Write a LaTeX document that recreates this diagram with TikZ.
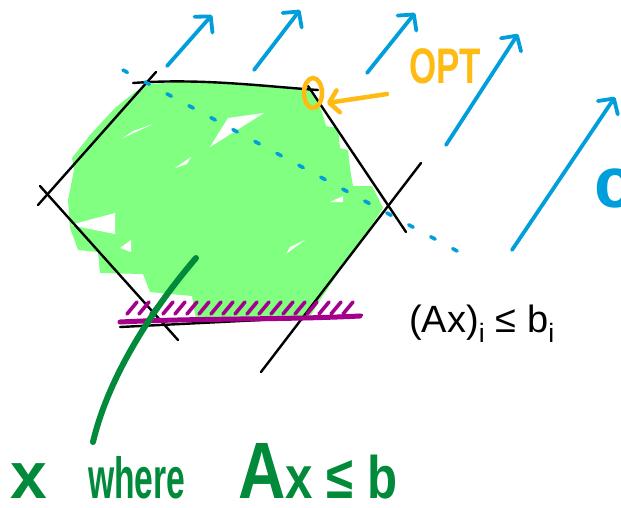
\documentclass[tikz,border=0pt]{standalone}
\usepackage{fontspec}
\setmainfont{Liberation Sans}
\usetikzlibrary{arrows.meta,shapes.geometric}
\definecolor{cblue}{RGB}{0,158,219}
\definecolor{optorange}{RGB}{255,187,20}
\definecolor{feasgreen}{RGB}{128,255,128}
\definecolor{labelgreen}{RGB}{0,138,58}
\definecolor{cutpurple}{RGB}{165,0,140}

\begin{document}
\begin{tikzpicture}[x=1pt, y=-1pt,
    edge/.style={black, line width=2.4pt, line cap=round},
    cvec/.style={cblue, line width=3.8pt, line cap=round,
                 -{Straight Barb[length=11pt, width=24pt, round]}},
    level/.style={cblue, line width=3.6pt, line cap=round, dash pattern=on 5pt off 20pt},
    optring/.style={ellipse, draw=optorange, line width=4.5pt,
                    minimum width=18pt, minimum height=30pt, inner sep=0pt},
    optarr/.style={optorange, line width=4.5pt, line cap=round,
                   -{Straight Barb[length=9pt, width=22pt, round]}},
    cut/.style={cutpurple, line width=5pt, line cap=round},
    hatch/.style={cutpurple, line width=3.6pt, line cap=round},
    pointer/.style={labelgreen, line width=6pt, line cap=round},
    hand/.style={inner sep=0pt, anchor=base west}
  ]
  \useasboundingbox (0,0) rectangle (621,507);
  \fill[white] (0,0) rectangle (621,507);
  % feasible region, scribbled
  \fill[feasgreen] (148,84) -- (200,81) -- (260,84) -- (308,89) -- (316,100) -- (322,112)
    -- (326,126) -- (338,128) -- (340,148) -- (348,150) -- (350,168) -- (353,186)
    -- (372,186) -- (383,208) -- (366,234) -- (350,255) -- (335,278) -- (320,300)
    -- (308,320) -- (196,320) -- (192,296) -- (150,292) -- (143,274) -- (100,273)
    -- (98,252) -- (78,250) -- (70,228) -- (68,200) -- (74,170) -- (72,158)
    -- (90,135) -- (115,108) -- (135,92) -- cycle;
  \fill[white] (123,138) -- (153,124) -- (133,131) -- cycle;
  \fill[white] (210,147) -- (264,113) -- (228,118) -- cycle;
  \fill[white] (175,168) -- (191,157) -- (187,164) -- cycle;
  \fill[white] (286,254) -- (305,240) -- (290,247) -- cycle;
  \fill[white] (70,225) -- (115,213) -- (115,234) -- cycle;
  \fill[white] (120,248) -- (131,240) -- (131,252) -- cycle;
  \fill[white] (330,202) -- (343,196) -- (343,202) -- cycle;
  % polytope edges
  \draw[edge] (133,83) .. controls (200,78) and (260,86) .. (318,90);
  \draw[edge] (156,72) -- (38,205);
  \draw[edge] (40,186) -- (178,340);
  \draw[edge] (120,327) -- (362,315);
  \draw[edge] (308,86) -- (406,232);
  \draw[edge] (421,163) -- (261,372);
  \draw[level] (123,70) -- (470,258);
  % optimum
  \node[optring] (optmark) at (313,93) {};
  \node[hand, text=optorange, font=\fontsize{50}{50}\selectfont\bfseries] (optlabel) at (409,83)
    {\scalebox{0.7}[1]{OPT}};
  \draw[optarr] ([xshift=-22pt, yshift=-11pt]optlabel.base west) -- ([xshift=14pt, yshift=-10pt]optmark.center);
  % constraint i
  \draw[cut] (120,322) .. controls (200,318) and (280,320) .. (360,316);
  \foreach \hx in {127,139,...,350}
    \draw[hatch] (\hx,314) -- ++(10,-12);
  \node[hand, font=\fontsize{38}{38}\selectfont] (constr) at (409,332)
    {(Ax)\textsubscript{i} ≤ b\textsubscript{i}};
  % objective direction
  \foreach \sx/\sy/\tx/\ty in {167/66/212/15, 254/70/300/10, 367/73/415/13,
                               446/145/518/34, 512/250/615/97}
    \draw[cvec] (\sx,\sy) -- (\tx,\ty);
  \node[hand, text=cblue, font=\fontsize{72}{72}\selectfont\bfseries] (clabel) at (594,207) {c};
  % feasible set label
  \draw[pointer] (196,258) .. controls (160,300) and (110,370) .. (93,442);
  \node[hand, text=labelgreen, font=\fontsize{66}{66}\selectfont\bfseries] (xlabel) at (10,498) {x};
  \node[hand, text=labelgreen, font=\fontsize{58}{58}\selectfont\bfseries] (wherelabel) at (88,498)
    {\scalebox{0.58}[1]{where}};
  \node[hand, text=labelgreen, font=\fontsize{60}{60}\selectfont\bfseries] (axlabel) at (238,498)
    {\scalebox{0.82}[1]{{\fontsize{80}{80}\selectfont A}x ≤ b}};
\end{tikzpicture}
\end{document}
